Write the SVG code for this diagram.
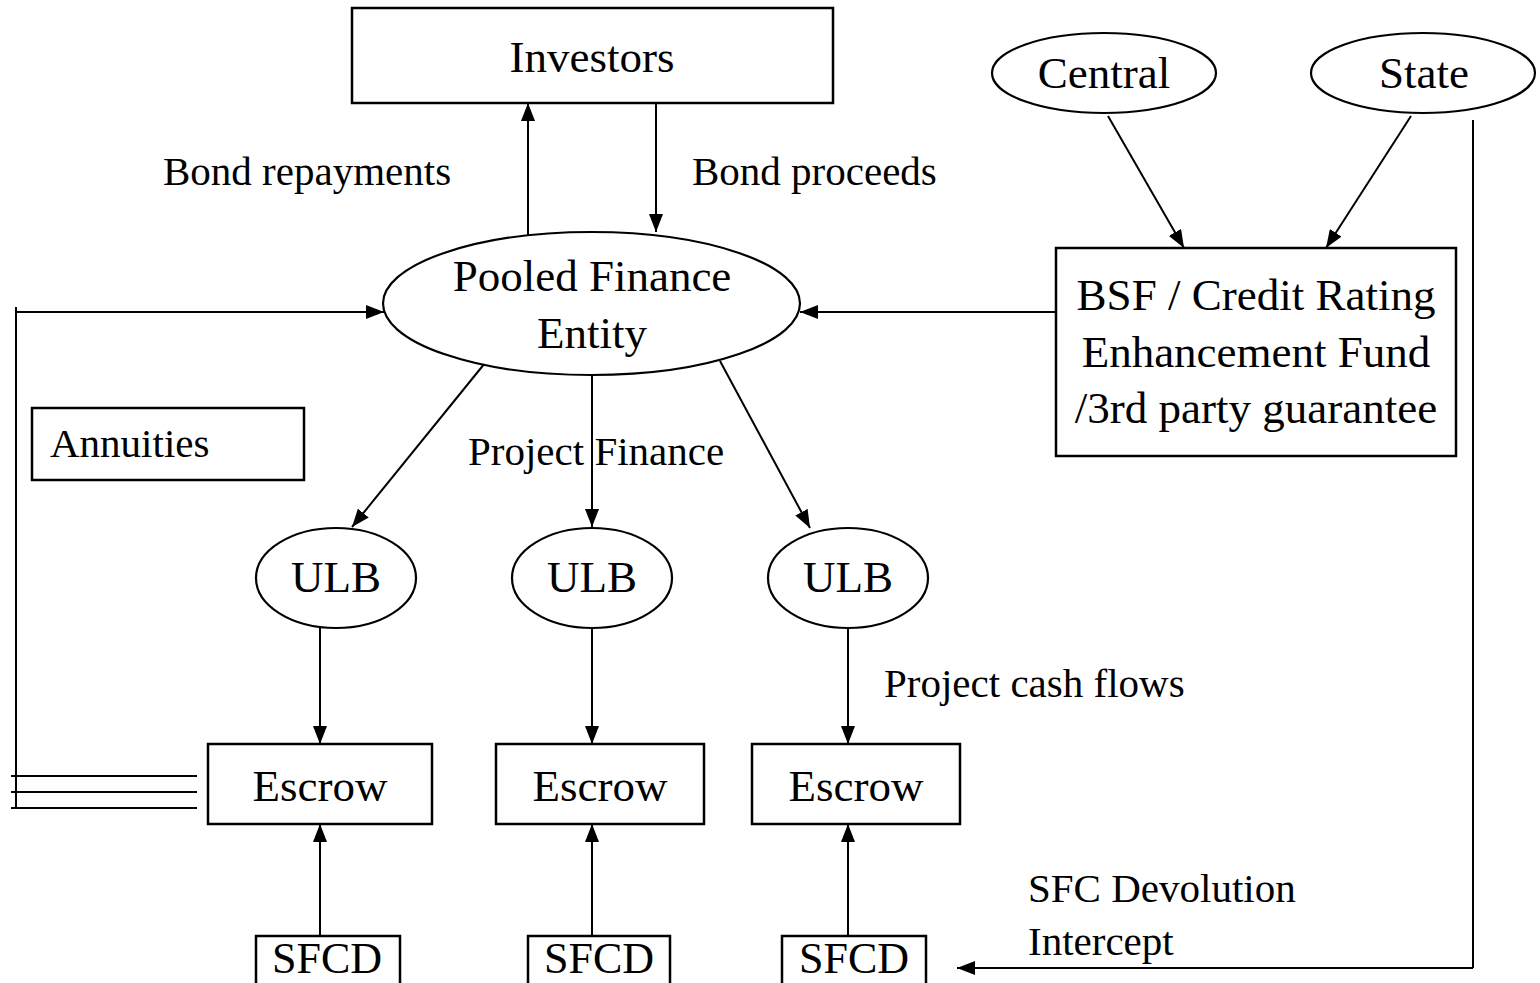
<svg xmlns="http://www.w3.org/2000/svg" width="1540" height="983" viewBox="0 0 1540 983">
<style>
.box{fill:#fff;stroke:#000;stroke-width:2.5}
.ell{fill:#fff;stroke:#000;stroke-width:2.2}
.ln{fill:none;stroke:#000;stroke-width:2}
.arr{fill:none;stroke:#000;stroke-width:2;marker-end:url(#ah)}
.nt{font-family:"Liberation Serif",serif;font-size:45px;fill:#000;text-anchor:middle}
.st{font-family:"Liberation Serif",serif;font-size:44px;fill:#000;text-anchor:middle}
.lt{font-family:"Liberation Serif",serif;font-size:41px;fill:#000}
</style>
<defs>
<marker id="ah" markerUnits="userSpaceOnUse" viewBox="0 0 18 14" refX="18" refY="7" markerWidth="18" markerHeight="14" orient="auto">
<path d="M0,0 L18,7 L0,14 z" fill="#000"/>
</marker>
</defs>
<rect width="1540" height="983" fill="#fff"/>

<g id="connectors">
<line class="arr" x1="528" y1="235" x2="528" y2="103"/>
<line class="arr" x1="656" y1="103" x2="656" y2="232"/>
<line class="arr" x1="1108" y1="116" x2="1184" y2="248"/>
<line class="arr" x1="1411" y1="116" x2="1326" y2="248"/>
<line class="arr" x1="1060" y1="312" x2="800" y2="312"/>
<polyline class="ln" points="16,307 16,808"/>
<line class="arr" x1="16" y1="312" x2="384" y2="312"/>
<line class="ln" x1="11" y1="776" x2="197" y2="776"/>
<line class="ln" x1="11" y1="792" x2="197" y2="792"/>
<line class="ln" x1="11" y1="808" x2="197" y2="808"/>
<line class="arr" x1="485" y1="363" x2="352" y2="527"/>
<line class="arr" x1="592" y1="375" x2="592" y2="527"/>
<line class="arr" x1="720" y1="361" x2="810" y2="528"/>
<line class="arr" x1="320" y1="627" x2="320" y2="744"/>
<line class="arr" x1="592" y1="628" x2="592" y2="744"/>
<line class="arr" x1="848" y1="628" x2="848" y2="744"/>
<line class="arr" x1="320" y1="936" x2="320" y2="824"/>
<line class="arr" x1="592" y1="936" x2="592" y2="824"/>
<line class="arr" x1="848" y1="936" x2="848" y2="824"/>
<polyline class="ln" points="1473,120 1473,968"/>
<line class="arr" x1="1473" y1="968" x2="957" y2="968"/>
</g>

<g id="investors">
<rect class="box" x="352" y="8" width="481" height="95"/>
<text class="nt" x="592" y="72">Investors</text>
</g>

<g id="pooled">
<ellipse class="ell" cx="591.5" cy="303.5" rx="208.5" ry="71.5"/>
<text class="nt" x="592" y="291">Pooled Finance</text>
<text class="nt" x="592" y="348">Entity</text>
</g>

<g id="central">
<ellipse class="ell" cx="1104" cy="73" rx="112" ry="40"/>
<text class="nt" x="1104" y="88">Central</text>
</g>

<g id="state">
<ellipse class="ell" cx="1423" cy="73" rx="112" ry="40"/>
<text class="nt" x="1424" y="88">State</text>
</g>

<g id="bsf">
<rect class="box" x="1056" y="248" width="400" height="208"/>
<text class="nt" x="1256" y="310">BSF / Credit Rating</text>
<text class="nt" x="1256" y="367">Enhancement Fund</text>
<text class="nt" x="1256" y="423">/3rd party guarantee</text>
</g>

<g id="annuities">
<rect class="box" x="32" y="408" width="272" height="72"/>
<text class="lt" x="50" y="457">Annuities</text>
</g>

<g id="ulb1">
<ellipse class="ell" cx="336" cy="578" rx="80" ry="50"/>
<text class="nt" x="336" y="592">ULB</text>
</g>
<g id="ulb2">
<ellipse class="ell" cx="592" cy="578" rx="80" ry="50"/>
<text class="nt" x="592" y="592">ULB</text>
</g>
<g id="ulb3">
<ellipse class="ell" cx="848" cy="578" rx="80" ry="50"/>
<text class="nt" x="848" y="592">ULB</text>
</g>

<g id="escrow1">
<rect class="box" x="208" y="744" width="224" height="80"/>
<text class="nt" x="320" y="801">Escrow</text>
</g>
<g id="escrow2">
<rect class="box" x="496" y="744" width="208" height="80"/>
<text class="nt" x="600" y="801">Escrow</text>
</g>
<g id="escrow3">
<rect class="box" x="752" y="744" width="208" height="80"/>
<text class="nt" x="856" y="801">Escrow</text>
</g>

<g id="sfcd1">
<rect class="box" x="256" y="936" width="144" height="60"/>
<text class="st" x="327" y="973">SFCD</text>
</g>
<g id="sfcd2">
<rect class="box" x="528" y="936" width="142" height="60"/>
<text class="st" x="599" y="973">SFCD</text>
</g>
<g id="sfcd3">
<rect class="box" x="782" y="936" width="144" height="60"/>
<text class="st" x="854" y="973">SFCD</text>
</g>

<g id="labels">
<text class="lt" x="163" y="185">Bond repayments</text>
<text class="lt" x="692" y="185">Bond proceeds</text>
<text class="lt" x="468" y="465">Project Finance</text>
<text class="lt" x="884" y="697">Project cash flows</text>
<text class="lt" x="1028" y="902">SFC Devolution</text>
<text class="lt" x="1028" y="955">Intercept</text>
</g>
</svg>
